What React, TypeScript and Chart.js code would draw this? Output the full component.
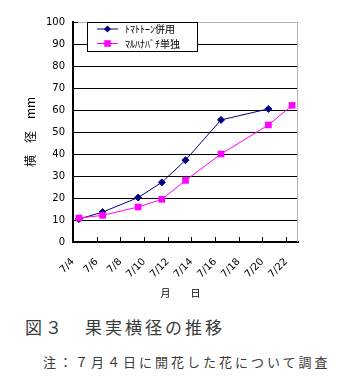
import React, { useEffect, useRef } from 'react';
import { Chart, registerables } from 'chart.js';

Chart.register(...registerables);

const seriesNames = ['ﾄﾏﾄﾄｰﾝ併用', 'ﾏﾙﾊﾅﾊﾞﾁ単独'];
const tomatoneDays = [4, 6, 9, 11, 13, 16, 20];
const tomatoneValues = [10.4, 13.6, 20.2, 27.1, 37.2, 55.5, 60.5];
const beeDays = [4, 6, 9, 11, 13, 16, 20, 22];
const beeValues = [10.9, 12.1, 15.9, 19.4, 28.0, 40.0, 53.2, 62.1];
const tickDays = [4, 6, 8, 10, 12, 14, 16, 18, 20, 22];
const tickMonth = 7;
const yTitle = '横　径　mm';
const xTitle = '月　　日　';
const caption = '図３　果実横径の推移';
const note = '注：７月４日に開花した花について調査';

const framePlugin = {
  id: 'frame',
  beforeDatasetsDraw(chart: any) {
    const { ctx, chartArea: a, scales } = chart;
    ctx.save();
    ctx.lineWidth = 1;
    ctx.strokeStyle = '#b4b4b4';
    ctx.beginPath();
    ctx.moveTo(a.right - 0.5, a.top);
    ctx.lineTo(a.right - 0.5, a.bottom);
    ctx.stroke();
    ctx.strokeStyle = '#000';
    ctx.beginPath();
    const xs = scales.x;
    xs.ticks.forEach((t: any) => {
      const px = Math.round(xs.getPixelForValue(t.value)) + 0.5;
      ctx.moveTo(px, a.bottom);
      ctx.lineTo(px, a.bottom - 5);
    });
    const ys = scales.y;
    ys.ticks.forEach((t: any) => {
      const py = Math.round(ys.getPixelForValue(t.value)) + 0.5;
      ctx.moveTo(a.left, py);
      ctx.lineTo(a.left + 5, py);
    });
    ctx.stroke();
    ctx.restore();
  },
};

const legendPlugin = {
  id: 'boxLegend',
  afterDraw(chart: any) {
    const { ctx, chartArea: a } = chart;
    const x0 = a.left + 14;
    const y0 = a.top;
    const w = 111;
    const h = 30;
    ctx.save();
    ctx.fillStyle = '#fff';
    ctx.fillRect(x0, y0, w, h);
    ctx.strokeStyle = '#000';
    ctx.lineWidth = 1;
    ctx.strokeRect(x0 + 0.5, y0 + 0.5, w - 1, h - 1);
    chart.data.datasets.forEach((ds: any, i: number) => {
      const y = y0 + 7 + i * 14.5;
      ctx.strokeStyle = ds.borderColor;
      ctx.lineWidth = 1;
      ctx.beginPath();
      ctx.moveTo(x0 + 10, y);
      ctx.lineTo(x0 + 31, y);
      ctx.stroke();
      ctx.fillStyle = ds.backgroundColor;
      const cx = x0 + 20.5;
      if (ds.pointStyle === 'rectRot') {
        const r = 3.5;
        ctx.beginPath();
        ctx.moveTo(cx, y - r);
        ctx.lineTo(cx + r, y);
        ctx.lineTo(cx, y + r);
        ctx.lineTo(cx - r, y);
        ctx.closePath();
        ctx.fill();
      } else {
        ctx.fillRect(cx - 3.3, y - 3.3, 6.6, 6.6);
      }
      ctx.fillStyle = '#000';
      ctx.font = '10px "Noto Sans CJK JP"';
      ctx.textBaseline = 'middle';
      ctx.textAlign = 'left';
      ctx.fillText(ds.label, x0 + 38, y + 0.5);
    });
    ctx.restore();
  },
};

function ChartBox() {
  const ref = useRef<HTMLCanvasElement>(null);
  useEffect(() => {
    if (!ref.current) return;
    const chart = new Chart(ref.current, {
      type: 'line',
      data: {
        datasets: [
          {
            label: seriesNames[0],
            data: tomatoneDays.map((d, i) => ({ x: d, y: tomatoneValues[i] })),
            borderColor: '#000080',
            backgroundColor: '#000080',
            borderWidth: 1,
            pointStyle: 'rectRot',
            pointRadius: 3.5,
            pointBorderWidth: 1,
            order: 2,
          },
          {
            label: seriesNames[1],
            data: beeDays.map((d, i) => ({ x: d, y: beeValues[i] })),
            borderColor: '#ff00ff',
            backgroundColor: '#ff00ff',
            borderWidth: 1,
            pointStyle: 'rect',
            pointRadius: 4.7,
            pointBorderWidth: 0,
            order: 1,
          },
        ],
      },
      options: {
        animation: false,
        responsive: false,
        maintainAspectRatio: false,
        layout: { padding: { top: 22, right: 59, left: 0, bottom: 0 } },
        plugins: { legend: { display: false }, tooltip: { enabled: false } },
        scales: {
          x: {
            type: 'linear',
            min: tickDays[0] - 0.5,
            max: tickDays[tickDays.length - 1] + 0.5,
            afterBuildTicks: (s: any) => {
              s.ticks = tickDays.map((d) => ({ value: d - 0.5 }));
            },
            afterFit: (s: any) => {
              s.height = 68;
            },
            ticks: {
              autoSkip: false,
              maxRotation: 45,
              minRotation: 45,
              padding: 14,
              labelOffset: 0,
              color: '#000',
              font: { family: 'DejaVu Sans', size: 10 },
              callback: (v: any) => `${tickMonth}/${Math.round(Number(v) + 0.5)}`,
            },
            grid: { display: true, drawOnChartArea: false, drawTicks: false, color: '#000' },
            border: { display: true, color: '#000', width: 2 },
            title: {
              display: true,
              text: xTitle,
              color: '#000',
              font: { family: 'Noto Sans CJK JP', size: 10 },
              padding: { top: 0, bottom: 11 },
            },
          },
          y: {
            min: 0,
            max: 100,
            afterFit: (s: any) => {
              s.width = 73;
            },
            ticks: {
              stepSize: 10,
              padding: 8,
              color: '#000',
              font: { family: 'DejaVu Sans', size: 10 },
            },
            grid: {
              drawTicks: false,
              lineWidth: 1,
              color: (c: any) => (c.tick && c.tick.value === 100 ? '#b4b4b4' : '#000'),
            },
            border: { display: true, color: '#000', width: 2 },
            title: {
              display: true,
              text: yTitle,
              color: '#000',
              font: { family: 'Noto Sans CJK JP', size: 12 },
              padding: { top: 23, bottom: 0 },
            },
          },
        },
      },
      plugins: [framePlugin, legendPlugin],
    } as any);
    return () => chart.destroy();
  }, []);
  return <canvas ref={ref} width={357} height={310} style={{ display: 'block' }} />;
}

export default function App() {
  return (
    <div
      style={{
        position: 'absolute',
        left: 0,
        top: 0,
        width: 357,
        height: 384,
        background: '#fff',
        overflow: 'hidden',
      }}
    >
      <ChartBox />
      <div
        style={{
          position: 'absolute',
          left: 25,
          top: 318,
          fontFamily: '"Noto Sans CJK JP"',
          fontSize: 17,
          lineHeight: '17px',
          letterSpacing: 3,
          color: '#3a3a3a',
          whiteSpace: 'nowrap',
        }}
      >
        {caption}
      </div>
      <div
        style={{
          position: 'absolute',
          left: 43,
          top: 355,
          fontFamily: '"Noto Sans CJK JP"',
          fontSize: 13,
          lineHeight: '13px',
          letterSpacing: 3,
          color: '#3a3a3a',
          whiteSpace: 'nowrap',
        }}
      >
        {note}
      </div>
    </div>
  );
}
